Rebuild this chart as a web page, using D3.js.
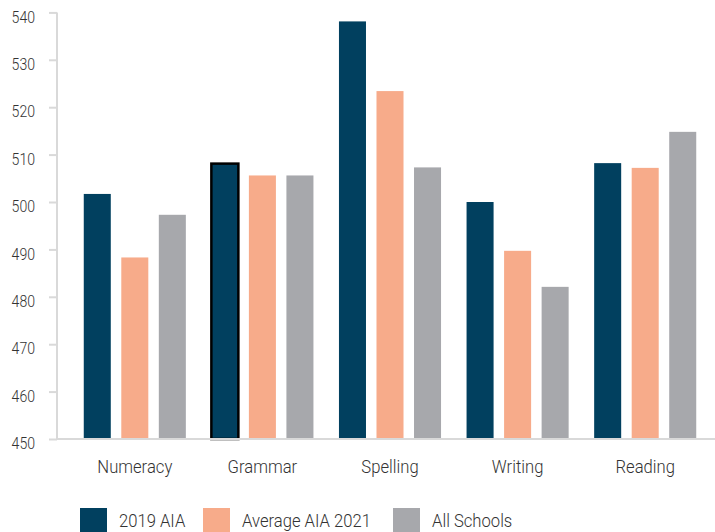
<!DOCTYPE html>
<html><head><meta charset="utf-8">
<script src="https://cdn.jsdelivr.net/npm/d3@7"></script>
<style>
html,body{margin:0;padding:0;background:#fff;}
svg{display:block;font-family:Roboto, "Open Sans", sans-serif;font-weight:300;}
</style></head>
<body>
<svg id="chart" width="715" height="532"></svg>
<script>
const categories = ["Numeracy", "Grammar", "Spelling", "Writing", "Reading"];
const seriesNames = ["2019 AIA", "Average AIA 2021", "All Schools"];
const aia2019 = [501.7, 508.1, 538.1, 500.0, 508.2];
const avgAia2021 = [488.3, 505.6, 523.4, 489.7, 507.2];
const allSchools = [497.3, 505.6, 507.3, 482.1, 514.8];
const yTicks = [450, 460, 470, 480, 490, 500, 510, 520, 530, 540];
const colors = ["#01405f", "#f7ab8a", "#a7a8ac"];

const seriesValues = [aia2019, avgAia2021, allSchools];
const svg = d3.select("#chart");
const SX = 0.9;

const y = d3.scaleLinear().domain([450, 540]).range([439, 12.4]);
const x0 = d3.scaleBand().domain(categories).range([71, 709]).paddingInner(0).paddingOuter(0);
const x1 = d3.scaleBand().domain(seriesNames).range([0, x0.bandwidth()]).paddingInner(0.28).paddingOuter(0.34);

// y axis
const yAxis = svg.append("g").attr("transform", "translate(57,0)")
  .call(d3.axisLeft(y).tickValues(yTicks).tickSize(8).tickPadding(13).tickFormat(d3.format("d")));
yAxis.select(".domain").attr("stroke", "#d9d9d9").attr("stroke-width", 2).attr("d", "M0," + y(540) + "V" + y(450));
yAxis.selectAll(".tick line").attr("stroke", "#d9d9d9").attr("stroke-width", 2);
yAxis.selectAll(".tick text").attr("fill", "#333").attr("font-size", 16).attr("dy", "0.6em")
  .attr("x", -22 / 0.88).attr("transform", "scale(0.88,1)")
  .style("font-family", "Roboto, sans-serif").style("font-weight", 300);

// bars
const groups = svg.append("g").selectAll("g").data(categories).join("g")
  .attr("transform", d => "translate(" + x0(d) + ",0)");
groups.selectAll("rect").data((c, i) => seriesNames.map((s, j) => ({s, j, c, v: seriesValues[j][i]})))
  .join("rect")
  .attr("x", d => x1(d.s))
  .attr("width", x1.bandwidth())
  .attr("y", d => y(d.v))
  .attr("height", d => y(450) - y(d.v))
  .attr("fill", d => colors[d.j])
  .attr("stroke", d => (d.c === "Grammar" && d.j === 0) ? "#000" : "none")
  .attr("stroke-width", 2.5);

// x axis
const xAxis = svg.append("g").attr("transform", "translate(0,439)")
  .call(d3.axisBottom(x0).tickSize(0).tickPadding(21));
xAxis.select(".domain").attr("stroke", "#d9d9d9").attr("stroke-width", 2).attr("d", "M56,0H715");
xAxis.selectAll(".tick text").attr("fill", "#333").attr("font-size", 18.5)
  .attr("transform", "scale(" + SX + ",1)")
  .style("font-family", "Roboto, sans-serif").style("font-weight", 300);

// legend
const legendX = [80, 203, 393];
const leg = svg.append("g").selectAll("g").data(seriesNames).join("g")
  .attr("transform", (d, i) => "translate(" + legendX[i] + ",508)");
leg.append("rect").attr("width", 27).attr("height", 27).attr("fill", (d, i) => colors[i]);
leg.append("text").attr("transform", "translate(39,13) scale(" + SX + ",1)").attr("dy", "0.35em")
  .attr("font-size", 18.5).attr("fill", "#333").text(d => d)
  .style("font-family", "Roboto, sans-serif").style("font-weight", 300);
</script>
</body></html>
